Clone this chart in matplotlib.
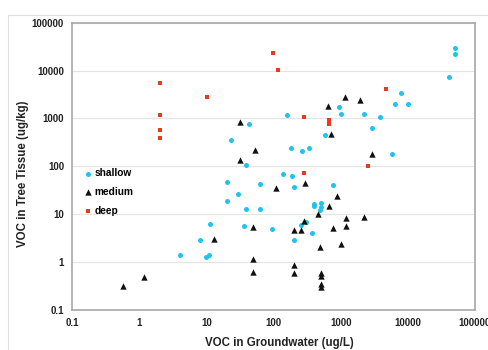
import matplotlib
matplotlib.use("Agg")
import matplotlib.pyplot as plt
from matplotlib.patches import Rectangle

plt.rcParams['font.family'] = ['Liberation Sans', 'DejaVu Sans']
plt.rcParams['font.weight'] = 'bold'

# shallow wells (groundwater ug/L, tree tissue ug/kg)
shallow_x = [50000, 50000, 40800, 8050, 6550, 10000, 935, 1000, 2260, 3900,
             2940, 592, 157, 43, 23.5, 180, 269, 334, 38.8, 5900,
             140, 191, 20, 63.5, 199, 762, 29.2, 20, 38.8, 63.5,
             401, 401, 505, 505, 500, 11.2, 35.9, 96, 254, 301,
             371, 8.1, 199, 4.07, 9.85, 10.9]
shallow_y = [29000, 22500, 7430, 3390, 2030, 2030, 1725, 1250, 1250, 1080,
             638, 456, 1175, 762, 358, 244, 204, 236, 108, 177,
             67.5, 62.3, 45.9, 41.7, 37.3, 40.4, 26.6, 19.0, 12.7, 12.7,
             16.0, 14.5, 16.7, 13.8, 12.1, 6.18, 5.7, 4.78, 5.98, 6.7,
             4.0, 2.81, 2.85, 1.37, 1.24, 1.37]

medium_x = [0.56, 1.15, 13.1, 49.4, 49.4, 49.4, 31.3, 31.6, 52.4, 109,
            298, 199, 199, 199, 257, 281, 455, 679, 883, 762,
            499, 1000, 1217, 1217, 2235, 656, 1150, 1945, 728, 2940,
            505, 505, 505, 505]
medium_y = [0.318, 0.482, 2.95, 5.44, 1.13, 0.603, 838, 134, 218, 34.4,
            43.8, 4.7, 0.845, 0.575, 4.55, 7.03, 9.85, 14.7, 23.4, 5.0,
            2.08, 2.4, 8.38, 5.61, 8.5, 1810, 2750, 2420, 478, 177,
            0.575, 0.506, 0.344, 0.293]

deep_x = [2, 2, 2, 2, 10, 99, 117, 284, 281, 664, 664, 4750, 2590]
deep_y = [5390, 1193, 580, 388, 2790, 22850, 10080, 1050, 70.8, 923, 774, 4040, 101]

ticks = [0.1, 1, 10, 100, 1000, 10000, 100000]
tick_labels = ['0.1', '1', '10', '100', '1000', '10000', '100000']

fig = plt.figure(figsize=(4.89, 3.5), dpi=100)
ax = fig.add_axes([0.148, 0.115, 0.823, 0.820])

ax.scatter(shallow_x, shallow_y, s=13, marker='o', color='#1fc3ee', lw=0, label='shallow', zorder=3)
ax.scatter(medium_x, medium_y, s=21, marker='^', color='#111111', lw=0, label='medium', zorder=3)
ax.scatter(deep_x, deep_y, s=10, marker='s', color='#e63b1f', lw=0, label='deep', zorder=3)

ax.set_xscale('log')
ax.set_yscale('log')
ax.set_xlim(0.1, 100000)
ax.set_ylim(0.1, 100000)
ax.set_xticks(ticks)
ax.set_xticklabels(tick_labels)
ax.set_yticks(ticks)
ax.set_yticklabels(tick_labels)
ax.minorticks_off()
ax.tick_params(length=0, labelsize=7, colors='#222222', pad=6)
ax.grid(axis='y', color='#e4e4e4', lw=0.8)
ax.set_axisbelow(True)
for sp in ax.spines.values():
    sp.set_color('#a8a8a8')
    sp.set_linewidth(1.2)

ax.legend(loc='center left', bbox_to_anchor=(0.032, 0.41), frameon=False,
          fontsize=7.3, handlelength=0.6, handletextpad=0.3, labelspacing=0.85,
          borderpad=0, borderaxespad=0, scatterpoints=1)

fig.text(0.5706, 0.019, 'VOC in Groundwater (ug/L)', ha='center', va='center',
         fontsize=8.3, color='#222222')
fig.text(0.048, 0.504, 'VOC in Tree Tissue (ug/kg)', ha='center', va='center',
         rotation=90, fontsize=8.3, color='#222222')

# light outer chart border
fig.add_artist(Rectangle((0.016, -0.1), 1.1, 1.057, transform=fig.transFigure,
                         fill=False, edgecolor='#e0e0e0', lw=0.8))

fig.savefig('out.png', dpi=100)
